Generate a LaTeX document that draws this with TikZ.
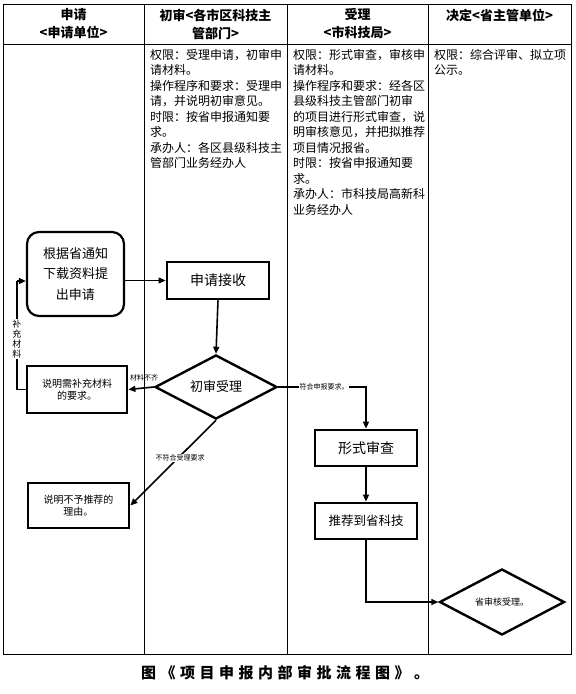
\documentclass[tikz,border=0pt]{standalone}
\usepackage{fontspec}
\setmainfont{Noto Sans CJK SC}
\newfontfamily\capfont{Noto Sans CJK SC}[LetterSpace=30]
\usetikzlibrary{arrows.meta,shapes.geometric}
\begin{document}
\begin{tikzpicture}[x=1pt,y=-1pt,
  grid/.style={line width=0.8pt},
  hdr/.style={font=\fontsize{13}{18}\selectfont\bfseries, align=center, inner sep=0},
  cell/.style={font=\fontsize{12}{15.5}\selectfont, align=left, anchor=north west, inner sep=0},
  boxa/.style={draw, line width=2.2pt, inner sep=0, align=center},
  dia/.style={draw, diamond, line width=2.4pt, inner sep=0, align=center},
  conn/.style={line width=1.6pt, -{Triangle[length=7pt,width=6pt]}},
  thin/.style={line width=1pt, -{Triangle[length=7pt,width=6pt]}},
  lab/.style={fill=white, inner sep=0.5pt, font=\fontsize{7}{8}\selectfont}
]
\useasboundingbox (0,0) rectangle (576,694);
% table
\draw[grid] (3,4) rectangle (571,654);
\draw[grid] (3,44) -- (571,44);
\foreach \x in {144,287,428} \draw[grid] (\x,4) -- (\x,654);
% headers
\node[hdr] (h1) at (73.5,24) {申请\\<申请单位>};
\node[hdr] (h2) at (215.5,24) {初审<各市区科技主\\管部门>};
\node[hdr] (h3) at (357.5,24) {受理\\<市科技局>};
\node[hdr] (h4) at (499.5,15) {决定<省主管单位>};
% cell texts
\node[cell] (c2) at (150,49) {权限：受理申请，初审申\\请材料。\\操作程序和要求：受理申\\请，并说明初审意见。\\时限：按省申报通知要\\求。\\承办人：各区县级科技主\\管部门业务经办人};
\node[cell] (c3) at (293,49) {权限：形式审查，审核申\\请材料。\\操作程序和要求：经各区\\县级科技主管部门初审\\的项目进行形式审查，说\\明审核意见，并把拟推荐\\项目情况报省。\\时限：按省申报通知要\\求。\\承办人：市科技局高新科\\业务经办人};
\node[cell] (c4) at (434,49) {权限：综合评审、拟立项\\公示。};
% flow nodes
\node[boxa, rounded corners=12pt, minimum width=97pt, minimum height=84pt,
      font=\fontsize{13}{20.5}\selectfont] (apply) at (75.5,274) {根据省通知\\下载资料提\\出申请};
\node[boxa, line width=2.8pt, minimum width=102pt, minimum height=37pt,
      font=\fontsize{14}{16}\selectfont] (recv) at (218,280.5) {申请接收};
\node[dia, minimum width=122pt, minimum height=64pt,
      font=\fontsize{13}{15}\selectfont] (d1) at (216,387) {初审受理};
\node[boxa, line width=2.8pt, minimum width=100pt, minimum height=47pt,
      font=\fontsize{10}{12.5}\selectfont] (supp) at (77,389.5) {说明需补充材料\\的要求。};
\node[boxa, line width=2.8pt, minimum width=101pt, minimum height=45pt,
      font=\fontsize{10}{12.5}\selectfont] (rej) at (78.5,505.5) {说明不予推荐的\\理由。};
\node[boxa, line width=2.8pt, minimum width=102pt, minimum height=36pt,
      font=\fontsize{14}{16}\selectfont] (form) at (366,448) {形式审查};
\node[boxa, line width=2.8pt, minimum width=102pt, minimum height=36pt,
      font=\fontsize{12.5}{15}\selectfont] (rec) at (366,521) {推荐到省科技};
\node[dia, minimum width=125pt, minimum height=66pt,
      font=\fontsize{9}{11}\selectfont] (d2) at (502,602) {省审核受理。};
% connectors
\draw[thin] (apply.east |- recv.west) -- (recv.west);
\draw[conn] (recv.south) -- (d1.north);
\draw[conn] (d1.west) -- (supp.east);
\node[lab, fill=none] (l1) at (144,378) {材料不齐};
\coordinate (f1) at (17,389.5);
\coordinate (f2) at (17,281);
\draw[line width=1.6pt] (supp.west) -- (f1) -- (f2);
\draw[conn] (f2) -- (apply.west |- f2);
\node[lab, font=\fontsize{9}{10}\selectfont, align=center, inner sep=1pt] (l2) at (17,339) {补\\充\\材\\料};
\draw[conn] (d1.east) -| (form.north);
\node[lab] (l3) at (324,387) {符合申报要求。};
\draw[conn] (d1.south) -- (rej.east);
\node[lab] (l4) at (180,458) {不符合受理要求};
\draw[conn] (form.south) -- (rec.north);
\draw[conn] (rec.south) |- (d2.west);
% caption
\node[font=\capfont\fontsize{15}{18}\selectfont\bfseries, inner sep=0] (cap) at (285,673) {图《项目申报内部审批流程图》。};
\end{tikzpicture}
\end{document}
